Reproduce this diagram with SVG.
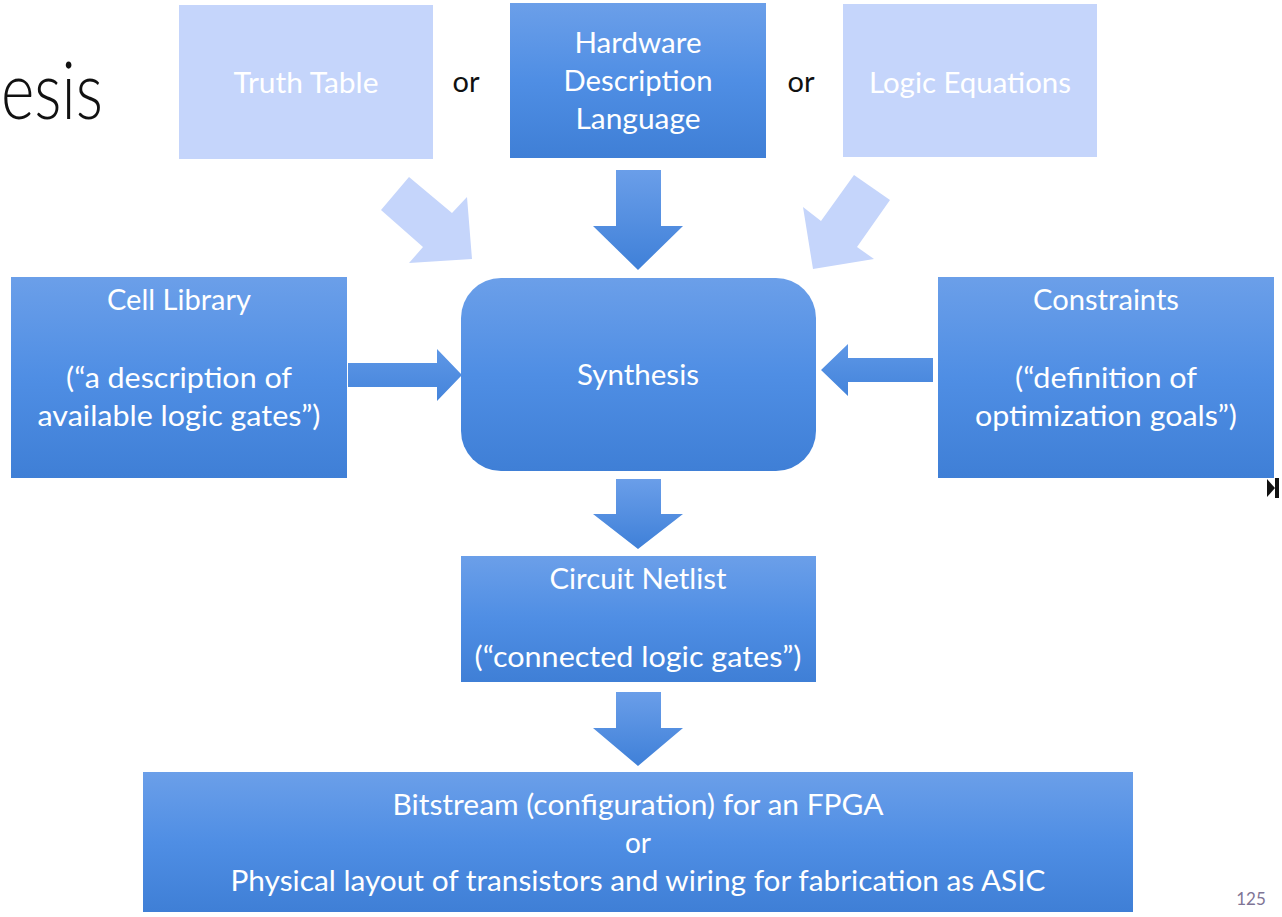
<svg xmlns="http://www.w3.org/2000/svg" width="1282" height="917" viewBox="0 0 1282 917">
<defs>
<linearGradient id="gDark" x1="0" y1="0" x2="0" y2="1">
<stop offset="0" stop-color="#6b9fe9"/>
<stop offset="0.5" stop-color="#4f8ee4"/>
<stop offset="1" stop-color="#3f7fd6"/>
</linearGradient>
<linearGradient id="gArrow" x1="0" y1="0" x2="0" y2="1">
<stop offset="0" stop-color="#6a9ee9"/>
<stop offset="1" stop-color="#3f80d8"/>
</linearGradient>
<linearGradient id="gArrowH" x1="0" y1="0" x2="0" y2="1">
<stop offset="0" stop-color="#5e97e6"/>
<stop offset="1" stop-color="#4484db"/>
</linearGradient>
</defs>
<style>
.dark{fill:url(#gDark)}
.light{fill:#c5d5fb}
.arr{fill:url(#gArrow)}
.arrh{fill:url(#gArrowH)}
.larr{fill:#c5d5fb}
.t{font-family:Lato,"Liberation Sans",sans-serif;font-size:29px;fill:#ffffff;text-anchor:middle}
.or{font-family:Lato,"Liberation Sans",sans-serif;font-size:29px;fill:#111111;text-anchor:middle}
</style>
<rect width="1282" height="917" fill="#ffffff"/>
<g id="title">
<text x="1" y="119" font-family="Lato,'Liberation Sans',sans-serif" font-weight="300" font-size="80" fill="#111111" textLength="102" lengthAdjust="spacingAndGlyphs">esis</text>
</g>

<g id="connectors">
<polygon class="larr" points="409,177 452,213 467,197 472,259 409,263 423,247 381,210"/>
<polygon class="arr" points="616,170 661,170 661,226 683,226 638,270 593,226 616,226"/>
<polygon class="larr" points="854,175 890,200 857,247 874,259 813,269 803,207 821,221"/>
<polygon class="arrh" points="348,363 437,363 437,349 462,375 437,401 437,387 348,387"/>
<polygon class="arrh" points="933,358 848,358 848,344 821,370 848,396 848,382 933,382"/>
<polygon class="arr" points="616,479 661,479 661,514 683,514 638,549 593,514 616,514"/>
<polygon class="arr" points="616,692 661,692 661,728 683,728 638,766 593,728 616,728"/>
</g>

<g id="truth-table">
<rect class="light" x="179" y="5" width="254" height="154"/>
<text class="t" x="306" y="93" textLength="145" lengthAdjust="spacingAndGlyphs">Truth Table</text>
</g>
<g id="or-1"><text class="or" x="466" y="92">or</text></g>
<g id="hdl">
<rect class="dark" x="510" y="3" width="256" height="155"/>
<text class="t" x="638" y="53" textLength="127" lengthAdjust="spacingAndGlyphs">Hardware</text>
<text class="t" x="638" y="91" textLength="149" lengthAdjust="spacingAndGlyphs">Description</text>
<text class="t" x="638" y="129" textLength="125" lengthAdjust="spacingAndGlyphs">Language</text>
</g>
<g id="or-2"><text class="or" x="801" y="92">or</text></g>
<g id="logic-equations">
<rect class="light" x="843" y="4" width="254" height="153"/>
<text class="t" x="970" y="93" textLength="202" lengthAdjust="spacingAndGlyphs">Logic Equations</text>
</g>

<g id="cell-library">
<rect class="dark" x="11" y="277" width="336" height="201"/>
<text class="t" x="179" y="310" textLength="144" lengthAdjust="spacingAndGlyphs">Cell Library</text>
<text class="t" x="179" y="388" textLength="226" lengthAdjust="spacingAndGlyphs">(“a description of</text>
<text class="t" x="179" y="426" textLength="283" lengthAdjust="spacingAndGlyphs">available logic gates”)</text>
</g>

<g id="synthesis">
<rect class="dark" x="461" y="278" width="355" height="193" rx="40" ry="40"/>
<text class="t" x="638" y="385" textLength="122" lengthAdjust="spacingAndGlyphs">Synthesis</text>
</g>

<g id="constraints">
<rect class="dark" x="938" y="277" width="336" height="201"/>
<text class="t" x="1106" y="310" textLength="146" lengthAdjust="spacingAndGlyphs">Constraints</text>
<text class="t" x="1106" y="388" textLength="182" lengthAdjust="spacingAndGlyphs">(“definition of</text>
<text class="t" x="1106" y="426" textLength="262" lengthAdjust="spacingAndGlyphs">optimization goals”)</text>
</g>

<g id="circuit-netlist">
<rect class="dark" x="461" y="556" width="355" height="126"/>
<text class="t" x="638" y="589" textLength="177" lengthAdjust="spacingAndGlyphs">Circuit Netlist</text>
<text class="t" x="638" y="667" textLength="327" lengthAdjust="spacingAndGlyphs">(“connected logic gates”)</text>
</g>

<g id="output">
<rect class="dark" x="143" y="772" width="990" height="140"/>
<text class="t" x="638" y="815" textLength="491" lengthAdjust="spacingAndGlyphs">Bitstream (configuration) for an FPGA</text>
<text class="t" x="638" y="853" textLength="26" lengthAdjust="spacingAndGlyphs">or</text>
<text class="t" x="638" y="891" textLength="815" lengthAdjust="spacingAndGlyphs">Physical layout of transistors and wiring for fabrication as ASIC</text>
</g>

<g id="page-number">
<text x="1251" y="905" text-anchor="middle" font-family="Lato,'Liberation Sans',sans-serif" font-size="17" fill="#7f7596">125</text>
</g>
<g id="cursor-mark">
<polygon points="1267,479 1275,488 1267,497" fill="#111111"/>
<rect x="1275" y="478" width="4" height="20" fill="#111111"/>
</g>
</svg>
